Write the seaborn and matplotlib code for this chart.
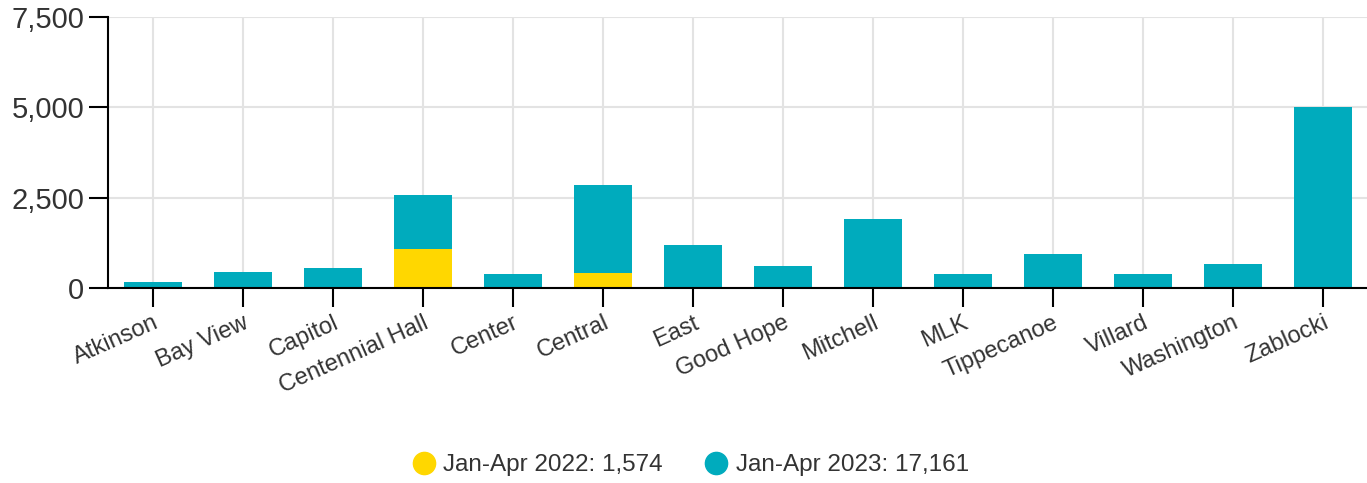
import matplotlib
matplotlib.use("Agg")
import matplotlib.pyplot as plt
import seaborn as sns
import pandas as pd
from matplotlib.lines import Line2D

categories = ["Atkinson", "Bay View", "Capitol", "Centennial Hall", "Center", "Central",
              "East", "Good Hope", "Mitchell", "MLK", "Tippecanoe", "Villard",
              "Washington", "Zablocki"]
jan_apr_2022 = [0, 0, 0, 1075, 0, 410, 0, 0, 0, 0, 0, 0, 0, 0]
jan_apr_2023 = [180, 460, 570, 1500, 405, 2440, 1185, 625, 1905, 405, 960, 405, 680, 5015]
legend_labels = ["Jan-Apr 2022: 1,574", "Jan-Apr 2023: 17,161"]
y_ticks = [0, 2500, 5000, 7500]
y_tick_labels = ["0", "2,500", "5,000", "7,500"]

c22 = "#FFD700"
c23 = "#00ABBD"

sns.set_theme(style="white")
plt.rcParams['font.family'] = ['Liberation Sans', 'DejaVu Sans']

df = pd.DataFrame({"cat": categories, "y22": jan_apr_2022, "y23": jan_apr_2023})
df["total"] = df["y22"] + df["y23"]

fig = plt.figure(figsize=(13.67, 4.83), dpi=100)
ax = fig.add_axes([108/1367, 1-288.3/483, 1260/1367, (288.3-16.7)/483])

sns.barplot(data=df, x="cat", y="total", color=c23, saturation=1, width=0.65, ax=ax,
            zorder=3, linewidth=0, edgecolor="none")
sns.barplot(data=df, x="cat", y="y22", color=c22, saturation=1, width=0.65, ax=ax,
            zorder=4, linewidth=0, edgecolor="none")

ax.set_xlim(-0.5, len(categories) - 0.5)
ax.set_ylim(0, 7500)
ax.set_yticks(y_ticks)
ax.set_yticklabels(y_tick_labels, fontsize=21, color="#333333")
ax.set_xticks(range(len(categories)))
ax.set_xticklabels(categories, rotation=24, ha="right", rotation_mode="anchor",
                   fontsize=17, color="#333333")
ax.set_xlabel("")
ax.set_ylabel("")

ax.grid(True, color="#e3e3e3", linewidth=1.5, zorder=0)
ax.set_axisbelow(True)
for s in ["top", "right"]:
    ax.spines[s].set_visible(False)
for s in ["left", "bottom"]:
    ax.spines[s].set_color("black")
    ax.spines[s].set_linewidth(1.5)
    ax.spines[s].set_zorder(5)
ax.tick_params(axis="y", length=14, width=1.5, color="black", direction="out", pad=3, left=True)
ax.tick_params(axis="x", length=14, width=1.5, color="black", direction="out", pad=3, bottom=True)

handles = [Line2D([0], [0], marker="o", linestyle="", markersize=16, markerfacecolor=c22, markeredgecolor=c22),
           Line2D([0], [0], marker="o", linestyle="", markersize=16, markerfacecolor=c23, markeredgecolor=c23)]
fig.legend(handles, legend_labels, loc="center", bbox_to_anchor=(688/1367, 1-465/483), ncol=2,
           frameon=False, fontsize=17.5, handletextpad=0.1, columnspacing=1.5,
           handlelength=1.4, labelcolor="#333333")

fig.savefig("out.png", dpi=100)
